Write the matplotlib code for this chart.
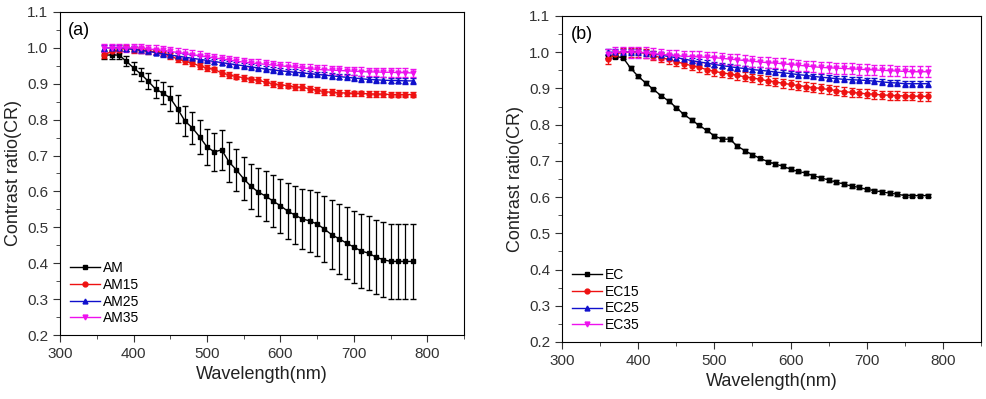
import numpy as np
import matplotlib.pyplot as plt
from matplotlib.ticker import MultipleLocator

plt.rcParams['font.family'] = ['Liberation Sans', 'DejaVu Sans']

wl = np.arange(360, 781, 10)

# panel (a)
am = [0.98, 0.98, 0.98, 0.963, 0.944, 0.927, 0.907, 0.885, 0.874, 0.86, 0.83,
      0.796, 0.777, 0.752, 0.724, 0.71, 0.716, 0.682, 0.66, 0.635, 0.614, 0.598,
      0.587, 0.573, 0.56, 0.545, 0.534, 0.523, 0.518, 0.509, 0.495, 0.479, 0.468,
      0.456, 0.445, 0.434, 0.428, 0.417, 0.41, 0.405, 0.405, 0.405, 0.405]
am_err = [0.01, 0.01, 0.012, 0.014, 0.016, 0.018, 0.022, 0.026, 0.03, 0.035, 0.038,
          0.042, 0.045, 0.048, 0.051, 0.054, 0.056, 0.057, 0.058, 0.06, 0.063, 0.066,
          0.069, 0.072, 0.075, 0.078, 0.081, 0.084, 0.087, 0.09, 0.093, 0.096, 0.098,
          0.1, 0.101, 0.102, 0.103, 0.104, 0.105, 0.105, 0.105, 0.105, 0.105]
am15 = [0.98, 0.99, 0.995, 1.0, 0.995, 0.995, 0.99, 0.99, 0.985, 0.977, 0.969,
        0.963, 0.957, 0.95, 0.944, 0.94, 0.93, 0.925, 0.92, 0.917, 0.912, 0.91,
        0.904, 0.9, 0.897, 0.895, 0.891, 0.89, 0.886, 0.882, 0.878, 0.876, 0.875,
        0.874, 0.873, 0.873, 0.872, 0.871, 0.871, 0.87, 0.87, 0.87, 0.87]
am25 = [1.0, 1.0, 1.0, 0.998, 0.996, 0.993, 0.99, 0.987, 0.983, 0.98, 0.977,
        0.974, 0.971, 0.968, 0.965, 0.962, 0.959, 0.956, 0.953, 0.95, 0.947, 0.944,
        0.941, 0.938, 0.936, 0.934, 0.932, 0.93, 0.928, 0.926, 0.924, 0.922, 0.92,
        0.918, 0.916, 0.914, 0.912, 0.911, 0.91, 0.909, 0.909, 0.908, 0.908]
am35 = [1.0, 1.0, 1.0, 1.0, 1.0, 0.999, 0.997, 0.995, 0.993, 0.99, 0.987,
        0.984, 0.981, 0.978, 0.975, 0.972, 0.969, 0.966, 0.963, 0.96, 0.958, 0.956,
        0.954, 0.952, 0.95, 0.948, 0.946, 0.944, 0.942, 0.94, 0.939, 0.938, 0.937,
        0.936, 0.935, 0.934, 0.933, 0.933, 0.932, 0.932, 0.931, 0.931, 0.93]

# panel (b)
ec = [0.988, 0.988, 0.985, 0.956, 0.933, 0.915, 0.897, 0.88, 0.865, 0.847, 0.828,
      0.813, 0.798, 0.784, 0.769, 0.76, 0.76, 0.741, 0.728, 0.717, 0.707, 0.698,
      0.691, 0.685, 0.677, 0.671, 0.666, 0.659, 0.653, 0.647, 0.641, 0.636, 0.63,
      0.627, 0.621, 0.618, 0.614, 0.611, 0.608, 0.604, 0.604, 0.604, 0.604]
ec15 = [0.98, 0.995, 1.0, 1.0, 1.0, 0.997, 0.99, 0.985, 0.98, 0.974, 0.968,
        0.963, 0.958, 0.952, 0.947, 0.943, 0.94, 0.936, 0.932, 0.929, 0.925, 0.921,
        0.918, 0.914, 0.911, 0.908, 0.905, 0.902, 0.9, 0.897, 0.894, 0.891, 0.889,
        0.887, 0.885, 0.884, 0.882, 0.881, 0.88, 0.879, 0.879, 0.878, 0.878]
ec25 = [1.0, 1.0, 1.0, 1.0, 1.0, 0.998, 0.995, 0.992, 0.988, 0.985, 0.981,
        0.977, 0.973, 0.97, 0.966, 0.963, 0.96, 0.957, 0.955, 0.952, 0.95, 0.948,
        0.945, 0.943, 0.941, 0.938, 0.936, 0.933, 0.931, 0.929, 0.927, 0.925, 0.924,
        0.923, 0.922, 0.92, 0.918, 0.916, 0.915, 0.913, 0.913, 0.913, 0.913]
ec35 = [0.995, 1.0, 1.0, 1.0, 1.0, 0.998, 0.996, 0.994, 0.992, 0.99, 0.989,
        0.988, 0.987, 0.986, 0.985, 0.983, 0.981, 0.979, 0.977, 0.975, 0.973, 0.971,
        0.97, 0.968, 0.966, 0.964, 0.962, 0.96, 0.958, 0.957, 0.956, 0.955, 0.954,
        0.953, 0.952, 0.951, 0.95, 0.949, 0.948, 0.947, 0.946, 0.946, 0.946]

colors = ['black', '#ee1111', '#1010cc', '#ee11ee']
markers = ['s', 'o', '^', 'v']

panels = [
    ('(a)', ['AM', 'AM15', 'AM25', 'AM35'], [am, am15, am25, am35],
     [am_err, 0.008, 0.008, 0.012], [0.061, 0.1604, 0.4096, 0.8096]),
    ('(b)', ['EC', 'EC15', 'EC25', 'EC35'], [ec, ec15, ec25, ec35],
     [0.005, 0.012, 0.008, 0.015], [0.570, 0.1429, 0.425, 0.8171]),
]

fig = plt.figure(figsize=(9.86, 3.99), dpi=100)
for tag, names, series, errs, rect in panels:
    ax = fig.add_axes(rect)
    handles = []
    for name, y, e, c, m in zip(names, series, errs, colors, markers):
        cont = ax.errorbar(wl, y, yerr=e, color=c, marker=m, markersize=3.5,
                           linewidth=1, elinewidth=0.9, capsize=2.5, label=name)
        handles.append(cont[0])
    ax.set_xlim(300, 850)
    ax.set_ylim(0.2, 1.1)
    ax.xaxis.set_major_locator(MultipleLocator(100))
    ax.xaxis.set_minor_locator(MultipleLocator(50))
    ax.yaxis.set_major_locator(MultipleLocator(0.1))
    ax.yaxis.set_minor_locator(MultipleLocator(0.05))
    ax.yaxis.set_major_formatter(plt.FormatStrFormatter('%.1f'))
    ax.tick_params(which='major', direction='out', length=5, labelsize=11, colors='#333333')
    ax.tick_params(which='minor', direction='out', length=3, colors='#333333')
    ax.set_xlabel('Wavelength(nm)', fontsize=13, color='#222222')
    ax.set_ylabel('Contrast ratio(CR)', fontsize=13, color='#222222')
    ax.text(0.02, 0.97, tag, transform=ax.transAxes, fontsize=13, va='top')
    ax.legend(handles, names, loc='lower left', frameon=False, fontsize=10,
              handlelength=2.2, handletextpad=0.2, labelspacing=0.2, borderaxespad=0.3)

plt.savefig('out.png', dpi=100)
